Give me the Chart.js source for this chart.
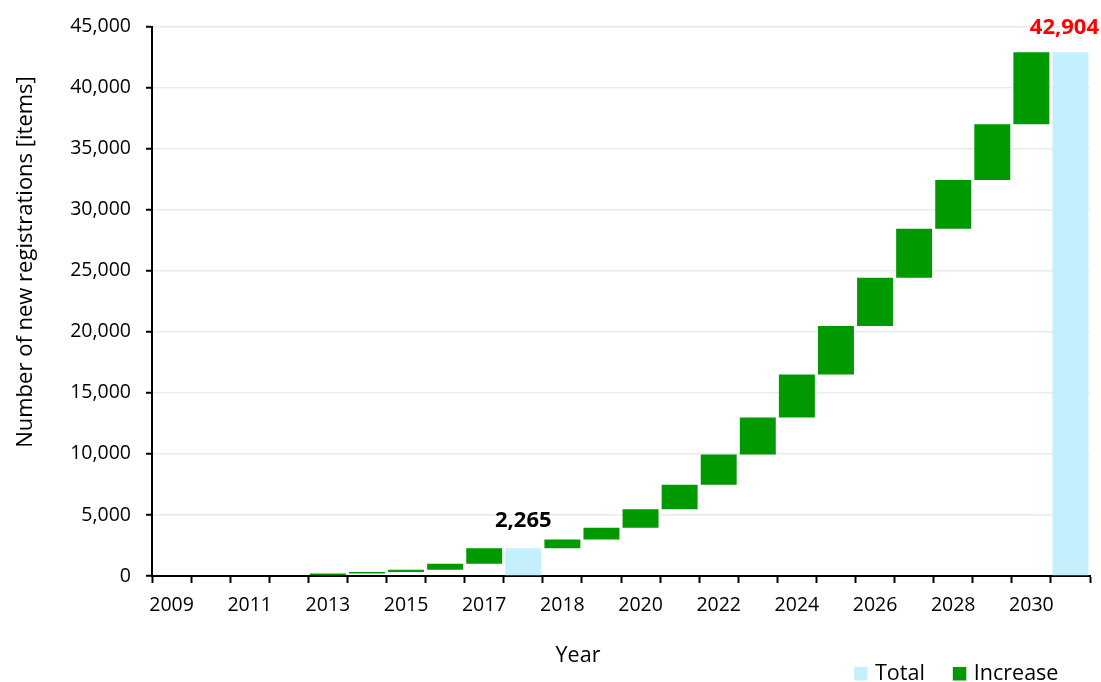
<!DOCTYPE html>
<html>
<head>
<meta charset="utf-8">
<script src="https://cdn.jsdelivr.net/npm/chart.js@4.4.1/dist/chart.umd.min.js"></script>
<style>
  html, body { margin: 0; padding: 0; background: #ffffff; }
  #wrap { width: 1101px; height: 682px; }
</style>
</head>
<body>
<div id="wrap"><canvas id="chart" width="1101" height="682"></canvas></div>
<script>
// Years along the axis, with a running-total column after 2017 and at the end
const categories = ['2009', '2010', '2011', '2012', '2013', '2014', '2015', '2016', '2017', 'Total',
  '2018', '2019', '2020', '2021', '2022', '2023', '2024', '2025', '2026', '2027', '2028', '2029', '2030', 'Total'];

// Floating "Increase" bars: where each year's step starts and ends
const increaseFrom = [null, null, null, null, 0, 200, 320, 520, 1000, null,
  2265, 3000, 3950, 5460, 7480, 9960, 12990, 16500, 20480, 24440, 28440, 32450, 37000, null];
const increaseTo = [null, null, null, null, 200, 320, 520, 1000, 2265, null,
  3000, 3950, 5460, 7480, 9960, 12990, 16500, 20480, 24440, 28440, 32450, 37000, 42904, null];

// Cumulative totals
const totals = [null, null, null, null, null, null, null, null, null, 2265,
  null, null, null, null, null, null, null, null, null, null, null, null, null, 42904];

// Value axis ticks
const yTicks = [0, 5000, 10000, 15000, 20000, 25000, 30000, 35000, 40000, 45000];

const FONT = "'Open Sans', 'Noto Sans', sans-serif";
const TOTAL_COLOR = '#c4f0fd';
const INCREASE_COLOR = '#009900';
const fmt = v => Number(v).toLocaleString('en-US');

// Value callouts on the total columns
const callouts = [
  { index: 9, color: '#000000', lift: 21 },
  { index: 23, color: '#ff0000', lift: 18 }
];

const decorations = {
  id: 'decorations',
  afterDraw(chart) {
    const { ctx, scales } = chart;
    const W = chart.width;
    ctx.save();

    // Total callouts
    ctx.font = `bold 22px ${FONT}`;
    ctx.textBaseline = 'alphabetic';
    callouts.forEach(c => {
      const v = totals[c.index];
      const x = scales.x.getPixelForValue(c.index);
      const y = scales.y.getPixelForValue(v);
      const txt = fmt(v);
      const w = ctx.measureText(txt).width;
      const cx = Math.min(x, W - 2 - w / 2);
      ctx.fillStyle = c.color;
      ctx.textAlign = 'center';
      ctx.fillText(txt, cx, y - c.lift);
    });

    // Axis titles
    ctx.fillStyle = '#000000';
    ctx.font = `21.5px ${FONT}`;
    ctx.textAlign = 'center';
    ctx.fillText('Year', 578, 661.5);

    ctx.save();
    ctx.font = `22px ${FONT}`;
    ctx.translate(31.5, 262);
    ctx.rotate(-Math.PI / 2);
    ctx.fillText('Number of new registrations [items]', 0, 0);
    ctx.restore();

    // Legend
    const items = chart.data.datasets.map(d => ({ text: d.label, color: d.backgroundColor }));
    let lx = 854;
    ctx.textAlign = 'left';
    items.forEach(it => {
      ctx.fillStyle = it.color;
      ctx.fillRect(lx, 667, 13.5, 13.5);
      ctx.fillStyle = '#000000';
      ctx.fillText(it.text, lx + 21, 680);
      lx += 21 + ctx.measureText(it.text).width + 28;
    });

    ctx.restore();
  }
};

new Chart(document.getElementById('chart'), {
  type: 'bar',
  data: {
    labels: categories,
    datasets: [
      {
        label: 'Total',
        data: totals.map(v => (v === null ? null : [0, v])),
        backgroundColor: TOTAL_COLOR
      },
      {
        label: 'Increase',
        data: increaseFrom.map((f, i) => (f === null ? null : [f, increaseTo[i]])),
        backgroundColor: INCREASE_COLOR
      }
    ]
  },
  options: {
    responsive: false,
    animation: false,
    devicePixelRatio: 1,
    layout: { padding: { left: 0, right: 11, top: 26, bottom: 0 } },
    datasets: {
      bar: { grouped: false, categoryPercentage: 1, barPercentage: 0.92, borderWidth: 0 }
    },
    plugins: { legend: { display: false }, tooltip: { enabled: false } },
    scales: {
      x: {
        offset: true,
        grid: {
          offset: true, drawOnChartArea: false, drawTicks: true,
          tickLength: 7, tickColor: '#000000', tickWidth: 2
        },
        border: { color: '#000000', width: 2 },
        ticks: {
          autoSkip: false, maxRotation: 0, minRotation: 0, color: '#000000', padding: 11,
          font: { family: FONT, size: 19.5 },
          callback: (v, i) => (i % 2 === 0 ? categories[i] : '')
        },
        afterFit: s => { s.height = 682 - 576; }
      },
      y: {
        min: 0, max: 45000,
        afterBuildTicks: s => { s.ticks = yTicks.map(v => ({ value: v })); },
        ticks: {
          color: '#000000', padding: 15,
          font: { family: FONT, size: 19.5 },
          callback: v => fmt(v)
        },
        grid: { color: '#ebebeb', lineWidth: 1.5, tickColor: '#000000', tickWidth: 2, tickLength: 6 },
        border: { color: '#000000', width: 2 },
        afterFit: s => { s.width = 152; }
      }
    }
  },
  plugins: [decorations]
});
</script>
</body>
</html>
